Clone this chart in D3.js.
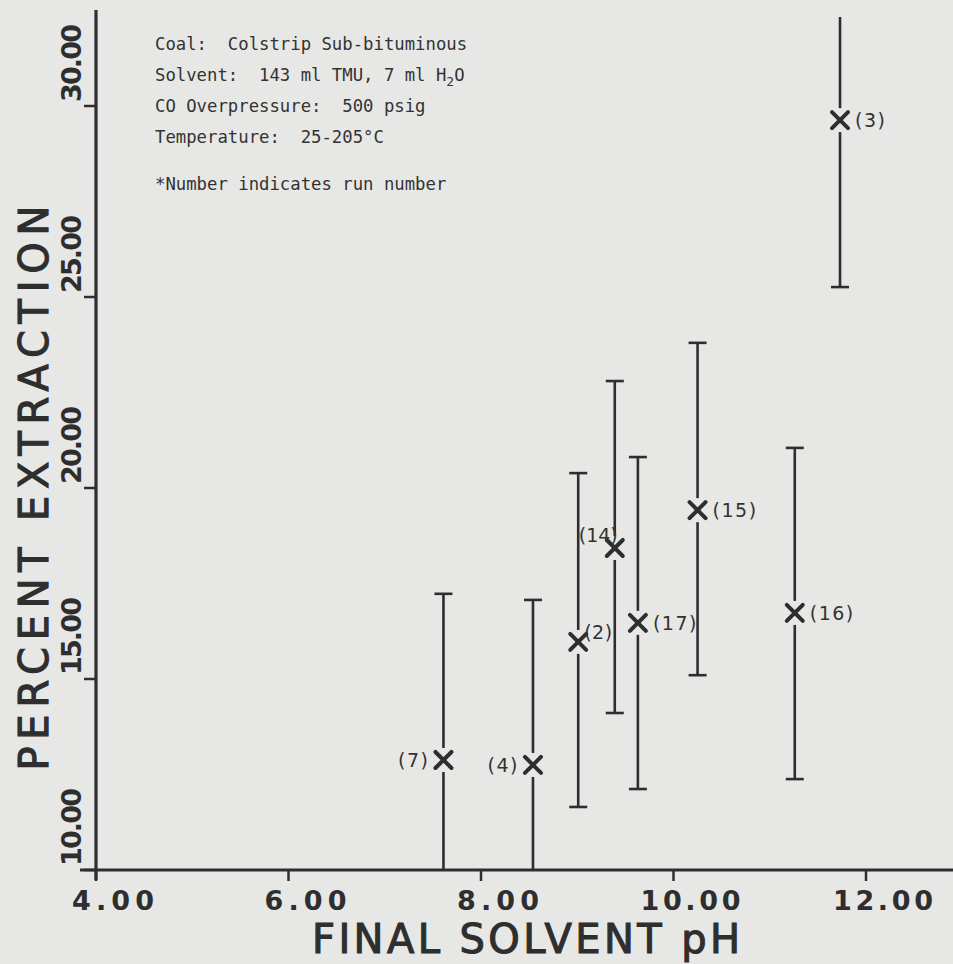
<!DOCTYPE html>
<html>
<head>
<meta charset="utf-8">
<script src="https://cdn.jsdelivr.net/npm/d3@7"></script>
<style>
  html, body { margin: 0; padding: 0; background: #e7e7e5; }
  svg { display: block; }
  text { white-space: pre; }
</style>
</head>
<body>
<div id="chart"></div>
<script>
// ---- data ----
const runs   = ["7", "4", "2", "14", "17", "15", "16", "3"];
const phVals = [7.61, 8.54, 9.01, 9.39, 9.63, 10.25, 11.26, 11.73];
const extVals = [12.88, 12.75, 15.97, 18.43, 16.47, 19.42, 16.73, 29.63];
const errLow  = [8.5, 8.4, 11.65, 14.11, 12.12, 15.10, 12.38, 25.26];
const errHigh = [17.23, 17.07, 20.39, 22.80, 20.81, 23.80, 21.05, 34.0];
const labelSide = ["left", "left", "right-up", "left-up", "right", "right", "right", "right"];
const xTicks = [4, 6, 8, 10, 12];
const yTicks = [10, 15, 20, 25, 30];
const notes = [
  "Coal:  Colstrip Sub-bituminous",
  "Solvent:  143 ml TMU, 7 ml H\u2082O",
  "CO Overpressure:  500 psig",
  "Temperature:  25-205\u00b0C",
  "*Number indicates run number"
];

const W = 953, H = 964;
const ink = "#2e2e2e";
const svg = d3.select("#chart").append("svg").attr("width", W).attr("height", H);

const x = d3.scaleLinear().domain([4, 12]).range([96, 866]);
const y = d3.scaleLinear().domain([10, 30]).range([870, 106]);
const yTopClip = 17;   // top of the plotting region (pixel)
const yBot = y(10);

// axes lines
svg.append("line").attr("x1", 80).attr("x2", W).attr("y1", yBot).attr("y2", yBot)
  .attr("stroke", ink).attr("stroke-width", 3.2);
svg.append("line").attr("x1", x(4)).attr("x2", x(4)).attr("y1", 10).attr("y2", yBot + 10)
  .attr("stroke", ink).attr("stroke-width", 3.2);

// x ticks
const xg = svg.append("g");
xg.selectAll("line").data(xTicks).join("line")
  .attr("x1", d => x(d)).attr("x2", d => x(d))
  .attr("y1", yBot).attr("y2", yBot + 11)
  .attr("stroke", ink).attr("stroke-width", 2.5);
xg.selectAll("text").data(xTicks).join("text")
  .attr("x", d => x(d) + 17).attr("y", yBot + 40)
  .attr("text-anchor", "middle")
  .attr("font-family", "DejaVu Sans, sans-serif").attr("font-weight", "bold")
  .attr("font-size", 27).attr("fill", ink)
  .attr("textLength", d => d >= 10 ? 100 : 82).attr("lengthAdjust", "spacing")
  .text(d => d3.format(".2f")(d));

// y ticks
const yg = svg.append("g");
yg.selectAll("line").data(yTicks).join("line")
  .attr("x1", x(4) - 12).attr("x2", x(4))
  .attr("y1", d => y(d)).attr("y2", d => y(d))
  .attr("stroke", ink).attr("stroke-width", 2.5);
yg.selectAll("text").data(yTicks).join("text")
  .attr("transform", d => `translate(81,${y(d) - 4}) rotate(-90)`)
  .attr("text-anchor", "start")
  .attr("font-family", "DejaVu Sans, sans-serif").attr("font-weight", "bold")
  .attr("font-size", 27).attr("fill", ink)
  .attr("textLength", 78).attr("lengthAdjust", "spacing")
  .text(d => d3.format(".2f")(d));

// axis titles
svg.append("text")
  .attr("x", 526).attr("y", 953)
  .attr("text-anchor", "middle")
  .attr("font-family", "DejaVu Sans, sans-serif")
  .attr("font-size", 40).attr("fill", ink)
  .attr("stroke", ink).attr("stroke-width", 1.1)
  .attr("textLength", 428).attr("lengthAdjust", "spacing")
  .text("FINAL SOLVENT pH");
svg.append("text")
  .attr("transform", `translate(48,488) rotate(-90)`)
  .attr("text-anchor", "middle")
  .attr("font-family", "DejaVu Sans, sans-serif")
  .attr("font-size", 40).attr("fill", ink)
  .attr("stroke", ink).attr("stroke-width", 1.1)
  .attr("textLength", 565).attr("lengthAdjust", "spacing")
  .text("PERCENT EXTRACTION");

// notes
const noteY = [50, 81, 112, 143, 190];
const ng = svg.append("g");
notes.forEach((t, i) => {
  const tx = ng.append("text")
    .attr("x", 155).attr("y", noteY[i])
    .attr("xml:space", "preserve")
    .attr("font-family", "DejaVu Sans Mono, monospace")
    .attr("font-size", 17.3).attr("fill", "#333");
  if (t.includes("H\u2082O")) {
    tx.text("Solvent:  143 ml TMU, 7 ml H");
    tx.append("tspan").attr("font-size", 13).attr("dy", 5).text("2");
    tx.append("tspan").attr("dy", -5).text("O");
  } else {
    tx.text(t);
  }
});

// error bars
const data = runs.map((r, i) => ({
  run: r, ph: phVals[i], v: extVals[i], lo: errLow[i], hi: errHigh[i], side: labelSide[i]
}));
const cap = 9;
const eg = svg.append("g");
data.forEach(d => {
  const cx = x(d.ph);
  const yHi = Math.max(y(d.hi), yTopClip);
  const yLo = Math.min(y(d.lo), yBot);
  eg.append("line").attr("x1", cx).attr("x2", cx).attr("y1", yHi).attr("y2", yLo)
    .attr("stroke", ink).attr("stroke-width", 2.6);
  if (y(d.hi) >= yTopClip) {
    eg.append("line").attr("x1", cx - cap).attr("x2", cx + cap).attr("y1", yHi).attr("y2", yHi)
      .attr("stroke", ink).attr("stroke-width", 2.6);
  }
  if (y(d.lo) <= yBot) {
    eg.append("line").attr("x1", cx - cap).attr("x2", cx + cap).attr("y1", yLo).attr("y2", yLo)
      .attr("stroke", ink).attr("stroke-width", 2.6);
  }
  // X marker with a small gap
  const cy = y(d.v);
  const s = 8;
  eg.append("rect").attr("x", cx - 4).attr("y", cy - 12).attr("width", 8).attr("height", 24)
    .attr("fill", "#e7e7e5");
  eg.append("path")
    .attr("d", `M${cx - s},${cy - s}L${cx + s},${cy + s}M${cx - s},${cy + s}L${cx + s},${cy - s}`)
    .attr("stroke", ink).attr("stroke-width", 4).attr("stroke-linecap", "round");
  // label
  const lt = eg.append("text")
    .attr("font-family", "DejaVu Sans, sans-serif")
    .attr("font-size", 19).attr("fill", "#333")
    .attr("letter-spacing", 1.5)
    .text(`(${d.run})`);
  if (d.side === "left") {
    lt.attr("x", cx - 14).attr("y", cy + 7).attr("text-anchor", "end");
  } else if (d.side === "left-up") {
    lt.attr("x", cx + 3).attr("y", cy - 6).attr("text-anchor", "end").attr("letter-spacing", 0);
  } else if (d.side === "right-up") {
    lt.attr("x", cx + 6).attr("y", cy - 3).attr("text-anchor", "start").attr("letter-spacing", 0.5);
  } else {
    lt.attr("x", cx + 15).attr("y", cy + 7).attr("text-anchor", "start");
  }
});
</script>
</body>
</html>
